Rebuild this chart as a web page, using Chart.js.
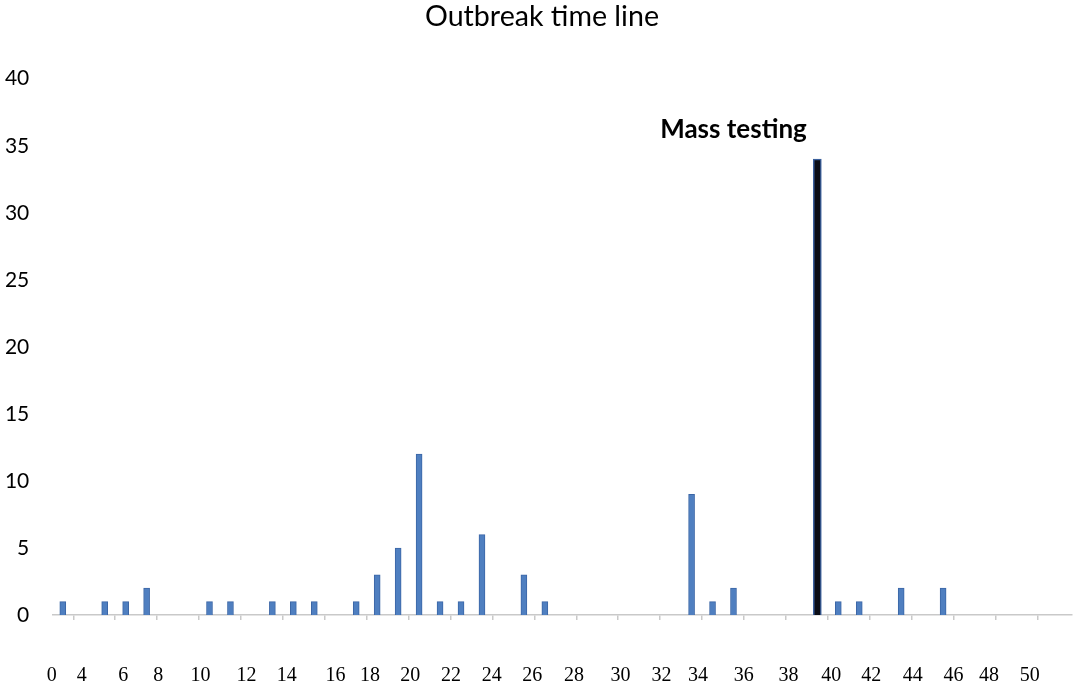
<!DOCTYPE html>
<html>
<head>
<meta charset="utf-8">
<script src="https://cdn.jsdelivr.net/npm/chart.js@4.4.1/dist/chart.umd.min.js"></script>
<style>
    html, body { margin: 0; padding: 0; background: #fff; }
    #wrap { width: 1084px; height: 695px; }
</style>
</head>
<body>
<div id="wrap"><canvas id="outbreakChart"></canvas></div>
<script>
// Kunlik holatlar (har bir ustun = bitta kun)
const dailyCases = [1, 0, 1, 1, 2, 0, 0, 1, 1, 0,
                    1, 1, 1, 0, 1, 3, 5, 12, 1, 1,
                    6, 0, 3, 1, 0, 0, 0, 0, 0, 0,
                    9, 1, 2, 0, 0, 0, 34, 1, 1, 0,
                    2, 0, 2, 0, 0, 0, 0, 0];

// Ommaviy test kuni
const massTestingDay = 36;
const massTestingLabel = 'Mass testing';
const massTestingLabelPos = [32.0, 36.2];

const chartTitle = 'Outbreak time line';

// Pastki yozuvlar (qo'lda joylashtirilgan)
const xTickLabels = ['0', '4', '6', '8', '10', '12', '14', '16', '18', '20', '22', '24', '26',
                     '28', '30', '32', '34', '36', '38', '40', '42', '44', '46', '48', '50'];
const xTickSlots = [-0.53, 0.90, 2.88, 4.55, 6.57, 8.76, 10.69, 13.01, 14.66, 16.58, 18.52, 20.47, 22.40,
                    24.39, 26.61, 28.57, 30.31, 32.49, 34.63, 36.66, 38.57, 40.55, 42.50, 44.19, 46.14];

const yTicks = [0, 5, 10, 15, 20, 25, 30, 35, 40];

const X_MIN = -0.5;
const X_MAX = 48.15;

const normalBars = dailyCases.map((v, i) => ({ x: i, y: i === massTestingDay ? null : v }));
const massBars = dailyCases.map((v, i) => ({ x: i, y: i === massTestingDay ? v : null }));

// Sarlavha (butun rasm markazida)
const titlePlugin = {
    id: 'pageTitle',
    afterDraw(chart) {
        const { ctx } = chart;
        ctx.save();
        ctx.font = '28.6px Lato';
        ctx.fillStyle = '#000';
        ctx.textAlign = 'center';
        ctx.textBaseline = 'middle';
        ctx.fillText(chartTitle, chart.width / 2, 17);
        ctx.restore();
    }
};

// Ommaviy test yozuvi
const massLabelPlugin = {
    id: 'massLabel',
    afterDatasetsDraw(chart) {
        const { ctx, scales } = chart;
        ctx.save();
        ctx.font = 'bold 26px Lato';
        ctx.fillStyle = '#000';
        ctx.textAlign = 'center';
        ctx.textBaseline = 'middle';
        ctx.fillText(massTestingLabel,
            scales.x.getPixelForValue(massTestingLabelPos[0]),
            scales.y.getPixelForValue(massTestingLabelPos[1]));
        ctx.restore();
    }
};

new Chart(document.getElementById('outbreakChart'), {
    type: 'bar',
    data: {
        datasets: [
            {
                label: 'Cases',
                data: normalBars,
                backgroundColor: '#4f7fc0',
                borderColor: '#3b66a6',
                borderWidth: 1,
                barThickness: 6,
                grouped: false
            },
            {
                label: 'Mass testing',
                data: massBars,
                backgroundColor: '#0a0d16',
                borderColor: '#3a5f9c',
                borderWidth: 1.5,
                barThickness: 8,
                grouped: false
            }
        ]
    },
    options: {
        responsive: true,
        maintainAspectRatio: false,
        animation: false,
        layout: { padding: { top: 78.7, right: 12, bottom: 8, left: 0 } },
        plugins: {
            legend: { display: false },
            tooltip: { enabled: false },
            title: { display: false }
        },
        scales: {
            x: {
                type: 'linear',
                min: X_MIN,
                max: X_MAX,
                offset: false,
                weight: 0,
                afterBuildTicks: scale => {
                    const ticks = [];
                    for (let v = X_MIN; v <= 47.5; v += 2) ticks.push({ value: v });
                    scale.ticks = ticks;
                },
                afterFit: scale => { scale.height = 6; },
                ticks: { display: false },
                grid: { drawOnChartArea: false, drawTicks: true, tickLength: 5, color: '#c9c9c9', lineWidth: 1.5 },
                border: { display: true, color: '#c9c9c9', width: 1.5 }
            },
            xl: {
                type: 'linear',
                position: 'bottom',
                min: X_MIN,
                max: X_MAX,
                offset: false,
                weight: 1,
                afterBuildTicks: scale => {
                    scale.ticks = xTickSlots.map(v => ({ value: v }));
                },
                afterFit: scale => { scale.height = 66; },
                ticks: {
                    autoSkip: false,
                    maxRotation: 0,
                    padding: 43,
                    color: '#000',
                    font: { family: 'Liberation Serif', size: 20 },
                    callback: (value, index) => xTickLabels[index]
                },
                grid: { display: false, drawTicks: false },
                border: { display: false }
            },
            y: {
                min: 0,
                max: 40,
                afterBuildTicks: scale => {
                    scale.ticks = yTicks.map(v => ({ value: v }));
                },
                afterFit: scale => { scale.width = 52.3; },
                ticks: {
                    padding: 23,
                    color: '#000',
                    font: { family: 'Lato', size: 21 }
                },
                grid: { display: false, drawTicks: false },
                border: { display: false }
            }
        }
    },
    plugins: [massLabelPlugin, titlePlugin]
});
</script>
</body>
</html>
